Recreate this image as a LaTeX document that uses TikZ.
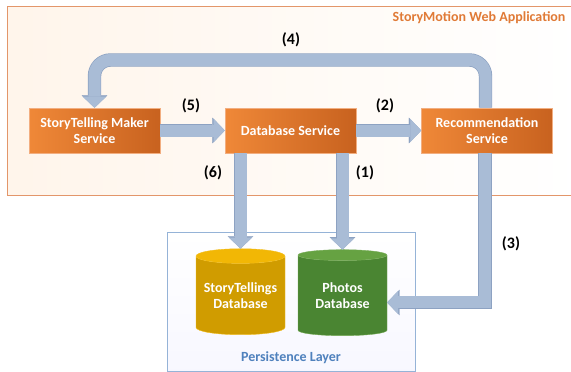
\documentclass[tikz,border=0pt]{standalone}
\usepackage{fontspec}
\setmainfont{Carlito}
\usetikzlibrary{shapes.geometric, arrows.meta}
\definecolor{svclight}{HTML}{EF8838}
\definecolor{svcdark}{HTML}{C8621F}
\definecolor{svcedge}{HTML}{F2AE80}
\definecolor{flowfill}{HTML}{A9BCD6}
\definecolor{flowedge}{HTML}{8DA2C2}
\definecolor{appedge}{HTML}{E3966A}
\definecolor{apptext}{HTML}{E07A36}
\definecolor{layeredge}{HTML}{95B3D7}
\definecolor{layertext}{HTML}{4F81BD}
\definecolor{goldbody}{HTML}{D09C00}
\definecolor{goldtop}{HTML}{F2B705}
\definecolor{greenbody}{HTML}{4A8532}
\definecolor{greentop}{HTML}{66A242}
\tikzset{
  service/.style = {draw=svcedge, line width=0.6pt, left color=svclight, right color=svcdark,
    text=white, font=\bfseries\fontsize{14}{16}\selectfont, align=center,
    minimum width=131pt, minimum height=45pt, inner sep=0pt},
  database/.style = {cylinder, shape border rotate=90, aspect=0.2, cylinder uses custom fill,
    text=white, font=\bfseries\fontsize{14}{16}\selectfont, align=center,
    minimum width=89pt, minimum height=86pt, inner sep=0pt},
  flow/.style = {line width=12pt, color=flowfill, line join=miter,
    -{Triangle[width=23pt,length=11pt,line width=0.1pt]},
    preaction={draw=flowedge, line width=13.4pt, -{Triangle[width=25.5pt,length=12.3pt,line width=0.1pt]}}},
  tag/.style = {font=\bfseries\fontsize{16}{18}\selectfont}
}

\begin{document}
\begin{tikzpicture}[x=1pt, y=-1pt]
    \useasboundingbox (0,0) rectangle (571,372);
    \draw[appedge, line width=0.8pt, left color=orange!8, right color=white] (7,6) rectangle (580,195);
    \node[anchor=east, text=apptext, font=\bfseries\fontsize{14}{16}\selectfont] (applabel) at (569,18) {StoryMotion Web Application};
    \draw[layeredge, line width=0.6pt, top color=white, bottom color=blue!3] (167,232) rectangle (415,371);
    \node[text=layertext, font=\bfseries\fontsize{14}{16}\selectfont] (layerlabel) at (291,358) {Persistence Layer};

    \node[service] (maker) at (94.5,130.5) {StoryTelling Maker\\Service};
    \node[service] (db) at (290.5,130.5) {Database Service};
    \node[service] (rec) at (487,130.5) {Recommendation\\Service};
    \node[database, draw=goldtop!90!white, cylinder body fill=goldbody, cylinder end fill=goldtop] (stories) at (240.5,295.5) {StoryTellings\\Database};
    \node[database, draw=greentop!90!white, cylinder body fill=greenbody, cylinder end fill=greentop] (photos) at (342.5,295.5) {Photos\\Database};

    \coordinate (ret) at (0,60);
    \draw[flow, rounded corners=16pt] ([xshift=-1.5pt]rec.north) |- (ret -| maker.north) -- (maker.north);
    \draw[flow] (maker.east) -- (db.west);
    \draw[flow] (db.east) -- (rec.west);
    \draw[flow] ([xshift=-2pt]rec.south) |- ([yshift=-7pt]photos.east);
    \draw[flow] (db.south -| stories.north) -- (stories.north);
    \draw[flow] (db.south -| photos.north) -- (photos.north);

    \node[tag] (n4) at (291,40) {(4)};
    \node[tag] (n5) at (191,106) {(5)};
    \node[tag] (n2) at (385,106) {(2)};
    \node[tag] (n6) at (213,173) {(6)};
    \node[tag] (n1) at (365,173) {(1)};
    \node[tag] (n3) at (511,244) {(3)};
\end{tikzpicture}
\end{document}
